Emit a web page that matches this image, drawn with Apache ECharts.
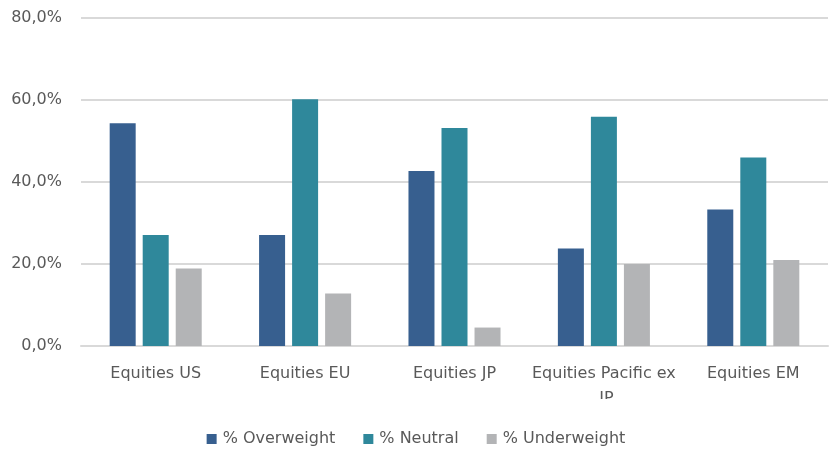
<!DOCTYPE html>
<html>
<head>
<meta charset="utf-8">
<script src="https://cdn.jsdelivr.net/npm/echarts@6/dist/echarts.min.js"></script>
<style>html,body{margin:0;padding:0;background:#fff;}#c{width:832px;height:450px;}</style>
</head>
<body>
<div id="c"></div>
<script>
const categories = ['Equities US', 'Equities EU', 'Equities JP', 'Equities Pacific ex JP', 'Equities EM'];
const seriesNames = ['% Overweight', '% Neutral', '% Underweight'];
const overweight = [54.3, 27.1, 42.7, 23.8, 33.3];
const neutral = [27.1, 60.2, 53.2, 55.9, 46.0];
const underweight = [18.9, 12.8, 4.5, 20.0, 21.0];
const yTicks = [0, 20, 40, 60, 80];

const colors = ['#375f8f', '#2f889b', '#b3b4b6'];
const font = 'DejaVu Sans';
const textColor = '#595959';
const chart = echarts.init(document.getElementById('c'));
const mk = (name, data, i) => ({
  name, type: 'bar', data, barWidth: 26, barGap: '27%',
  itemStyle: { color: colors[i] }
});
chart.setOption({
  animation: false,
  textStyle: { fontFamily: font },
  grid: { left: 81, right: 4, top: 18, bottom: 104, containLabel: false },
  legend: {
    data: seriesNames, top: 426, left: 'center', icon: 'rect',
    itemWidth: 10, itemHeight: 10, itemGap: 28,
    textStyle: { fontSize: 16, color: textColor, fontFamily: font, padding: [0, 0, 0, 1] }
  },
  xAxis: {
    type: 'category', data: categories,
    axisLine: { lineStyle: { color: '#d9d9d9', width: 2 } },
    axisTick: { show: false },
    axisLabel: { fontSize: 16, color: textColor, margin: 15, width: 148, overflow: 'break', lineHeight: 25, interval: 0 }
  },
  yAxis: {
    type: 'value', min: yTicks[0], max: yTicks[yTicks.length - 1], interval: 20,
    axisLine: { show: false }, axisTick: { show: false },
    splitLine: { lineStyle: { color: '#d9d9d9', width: 2 } },
    axisLabel: { fontSize: 16, color: textColor, margin: 19, formatter: v => v.toFixed(1).replace('.', ',') + '%' }
  },
  series: [mk(seriesNames[0], overweight, 0), mk(seriesNames[1], neutral, 1), mk(seriesNames[2], underweight, 2)],
  graphic: [{ type: 'rect', left: 480, top: 399, shape: { width: 200, height: 24 }, style: { fill: '#fff' }, z: 100 }]
});
</script>
</body>
</html>
